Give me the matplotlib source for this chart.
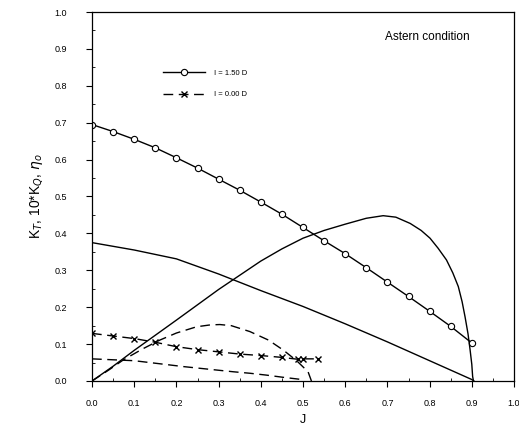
"""Open-water curves, astern condition (I = 1.50 D vs I = 0.00 D)."""
import matplotlib.pyplot as plt
from matplotlib.ticker import MultipleLocator

plt.rcParams["font.family"] = ["Liberation Sans", "DejaVu Sans"]

# ---- I = 1.50 D ----
j_kt15 = [0.0, 0.05, 0.1, 0.15, 0.2, 0.25, 0.3, 0.35, 0.4, 0.45, 0.5,
          0.55, 0.6, 0.65, 0.7, 0.75, 0.8, 0.85, 0.9]
kt15 = [0.695, 0.676, 0.655, 0.632, 0.605, 0.577, 0.547, 0.517, 0.485, 0.452,
        0.416, 0.380, 0.345, 0.307, 0.268, 0.229, 0.189, 0.148, 0.103]

j_kq15 = [0.0, 0.1, 0.2, 0.3, 0.4, 0.5, 0.6, 0.7, 0.8, 0.9, 0.905]
kq15 = [0.375, 0.355, 0.331, 0.290, 0.245, 0.202, 0.155, 0.106, 0.055, 0.004, 0.0]

j_eta15 = [0.0, 0.05, 0.1, 0.2, 0.3, 0.4, 0.45, 0.5, 0.55, 0.6, 0.65, 0.69,
           0.72, 0.754, 0.78, 0.801, 0.82, 0.84, 0.855, 0.868, 0.877, 0.884,
           0.891, 0.896, 0.9, 0.902, 0.904]
eta15 = [0.0, 0.040, 0.083, 0.165, 0.248, 0.325, 0.358, 0.387, 0.408, 0.425,
         0.441, 0.448, 0.444, 0.427, 0.408, 0.387, 0.360, 0.328, 0.293, 0.256,
         0.215, 0.174, 0.128, 0.084, 0.045, 0.012, 0.0]

# ---- I = 0.00 D ----
j_kt00 = [0.0, 0.05, 0.1, 0.15, 0.2, 0.25, 0.3, 0.35, 0.4, 0.45,
          0.487, 0.5, 0.536]
kt00 = [0.129, 0.122, 0.115, 0.105, 0.093, 0.085, 0.079, 0.073, 0.069, 0.064,
        0.059, 0.060, 0.060]

j_kq00 = [0.0, 0.1, 0.217, 0.335, 0.374, 0.413, 0.453, 0.49, 0.5]
kq00 = [0.060, 0.055, 0.039, 0.025, 0.021, 0.016, 0.010, 0.005, 0.003]

j_eta00 = [0.0, 0.04, 0.074, 0.12, 0.161, 0.2, 0.248, 0.28, 0.303, 0.33,
           0.374, 0.418, 0.453, 0.485, 0.512, 0.52]
eta00 = [0.0, 0.030, 0.057, 0.087, 0.111, 0.130, 0.147, 0.152, 0.153, 0.150,
         0.134, 0.111, 0.084, 0.055, 0.025, 0.0]

fig = plt.figure(figsize=(5.19, 4.25), dpi=100)
ax = fig.add_axes([92 / 519, 44 / 425, 422 / 519, 369 / 425])

dash = (0, (7, 4))
ax.plot(j_kt15, kt15, color="black", lw=1.0, marker="o", ms=4.5,
        mfc="white", mec="black", mew=0.8, label="I = 1.50 D")
ax.plot(j_kq15, kq15, color="black", lw=1.0)
ax.plot(j_eta15, eta15, color="black", lw=1.0)

ax.plot(j_kt00, kt00, color="black", lw=1.0, ls=dash, marker="x",
        ms=5, mew=1.0, label="I = 0.00 D")
ax.plot(j_kq00, kq00, color="black", lw=1.0, ls=dash)
ax.plot(j_eta00, eta00, color="black", lw=1.0, ls=dash)

ax.set_xlim(0, 1.0)
ax.set_ylim(0, 1.0)
ax.xaxis.set_major_locator(MultipleLocator(0.1))
ax.yaxis.set_major_locator(MultipleLocator(0.1))
ax.xaxis.set_minor_locator(MultipleLocator(0.05))
ax.yaxis.set_minor_locator(MultipleLocator(0.05))
ax.xaxis.set_major_formatter(lambda v, p: f"{v:.1f}")
ax.yaxis.set_major_formatter(lambda v, p: f"{v:.1f}")
ax.tick_params(which="major", direction="out", length=4, width=0.8,
               labelsize=6.5, pad=9)
ax.tick_params(axis="y", which="major", pad=14)
ax.tick_params(which="minor", direction="in", length=2, width=0.6)
for s in ax.spines.values():
    s.set_linewidth(0.9)

ax.set_xlabel("J", fontsize=9, labelpad=4)
ax.set_ylabel(r"K$_T$, 10*K$_Q$, $\eta_o$", fontsize=10, labelpad=7)

ax.text(0.896, 0.932, "Astern condition", transform=ax.transAxes,
        ha="right", va="center", fontsize=8.5)

ax.legend(loc="upper left", bbox_to_anchor=(0.168, 0.845), frameon=False,
          fontsize=5.5, handlelength=5.5, labelspacing=1.9, handletextpad=1.2,
          borderpad=0, borderaxespad=0)

fig.savefig("out.png", dpi=100, facecolor="white")
